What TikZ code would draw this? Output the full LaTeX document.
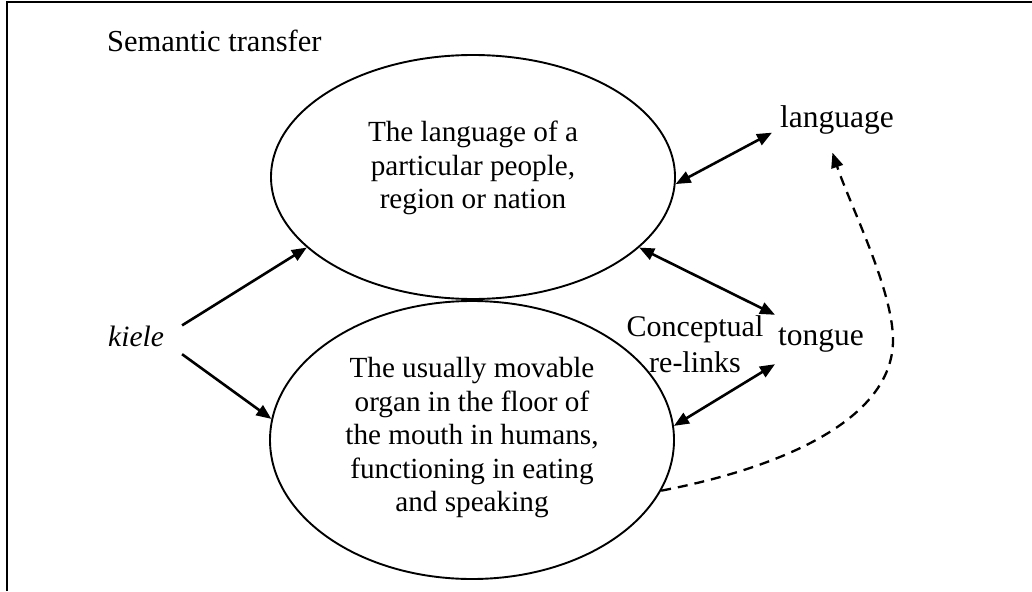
\documentclass[tikz,border=0pt]{standalone}
\usepackage{fontspec}
\setmainfont{Liberation Serif}
\usetikzlibrary{arrows.meta,shapes.geometric}
\begin{document}
\begin{tikzpicture}[x=1pt,y=-1pt,
  ell/.style={draw, ellipse, line width=1.9pt, inner sep=0pt},
  etext/.style={align=center, font=\fontsize{29.2}{33.5}\selectfont, inner sep=0pt},
  lbl/.style={font=\fontsize{31.5}{36}\selectfont},
  arr/.style={line width=2.6pt, -{Triangle[length=15pt,width=12pt]}},
  darr/.style={line width=2.6pt, {Triangle[length=15pt,width=12pt]}-{Triangle[length=15pt,width=12pt]}},
  dsh/.style={line width=2.3pt, dash pattern=on 10pt off 7pt, -{Triangle[length=15pt,width=12pt]}}]
\useasboundingbox (0,0) rectangle (1032,591);
% frame (only top and left edges visible)
\draw[line width=2pt] (7,591) -- (7,2) -- (1032,2);

\node[anchor=base west, inner sep=0pt, font=\fontsize{30.5}{34}\selectfont] (title) at (107,52) {Semantic transfer};

\node[ell, minimum width=404pt, minimum height=244pt] (T) at (473,177) {};
\node[etext] (Tt) at (473,168) {The language of a\\particular people,\\region or nation};

\node[ell, minimum width=404pt, minimum height=278pt] (B) at (472,440) {};
\node[etext] (Bt) at (472,438) {The usually movable\\organ in the floor of\\the mouth in humans,\\functioning in eating\\and speaking};

\node[anchor=base west, inner xsep=18pt, inner ysep=8pt, text height=20pt, text depth=0pt,
      font=\fontsize{29.5}{33}\selectfont\itshape] (kiele) at (90,346) {kiele};
\node[lbl, anchor=base west, inner sep=8pt, text height=21pt, text depth=7pt] (language) at (772,127) {language};
\node[lbl, anchor=base west, inner xsep=3pt, inner ysep=12pt, text height=18pt, text depth=7pt] (tongue) at (775,345) {tongue};
\node[align=center, inner sep=0pt, font=\fontsize{30}{36}\selectfont] (cr) at (695,344) {Conceptual\\re-links};

\draw[arr] (kiele.13) -- (T.203);
\draw[arr] (kiele.south east) -- (B.174.8);
\draw[darr] (T.-2) -- (language.191);
\draw[darr] (T.-23.6) -- (tongue.north west);
\draw[darr] (B.4.3) -- (tongue.south west);
\draw[dsh, shorten >=11pt] (B.-15) .. controls (780,468) and (893,420) .. (893,340)
  .. controls (893,290) and (850,205) .. (language.-110);
\end{tikzpicture}
\end{document}
